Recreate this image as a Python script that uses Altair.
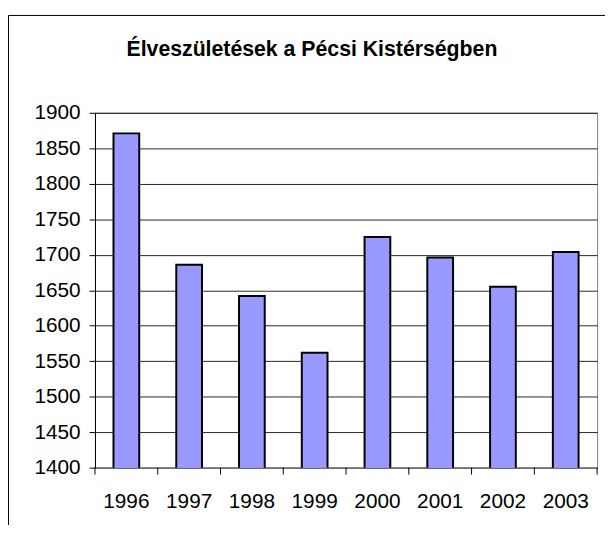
import altair as alt
import pandas as pd

title_text = "Élveszületések a Pécsi Kistérségben"
years = ["1996", "1997", "1998", "1999", "2000", "2001", "2002", "2003"]
births = [1871, 1686, 1642, 1562, 1725, 1696, 1655, 1704]
y_ticks = [1400, 1450, 1500, 1550, 1600, 1650, 1700, 1750, 1800, 1850, 1900]

df = pd.DataFrame({"year": years, "births": births})
tdf = pd.DataFrame({"t": [title_text]})
last_df = pd.DataFrame({"year": [years[-1]]})

W, H = 508, 359
FONT = "Liberation Sans"
FS = 21
P_IN, P_OUT = 0.59, 0.295
STEP = W / len(years)
HALF_GAP = P_OUT * STEP

xscale = alt.Scale(domain=years, paddingInner=P_IN, paddingOuter=P_OUT)
xaxis = alt.Axis(title=None, labelAngle=0, labelFontSize=FS, labelFont=FONT,
                 labelColor="#000000", domainColor="#808080", tickOpacity=0,
                 tickSize=7, labelPadding=16, grid=False)

bars = alt.Chart(df).mark_bar(
    color="#9999FF", stroke="#000000", strokeWidth=2, clip=True
).encode(
    x=alt.X("year:N", sort=years, scale=xscale, axis=xaxis),
    y=alt.Y("births:Q",
            scale=alt.Scale(domain=[1400, 1900], zero=False, nice=False),
            axis=alt.Axis(title=None, values=y_ticks, format="d", labelFontSize=FS,
                          labelFont=FONT, labelColor="#000000", domainColor="#000000",
                          tickColor="#000000", tickSize=6, labelPadding=9,
                          gridColor="#000000", gridWidth=1, gridOpacity=0.85)),
)

xticks = alt.Chart(df).mark_rule(color="#000000", strokeWidth=1, xOffset=-HALF_GAP).encode(
    x=alt.X("year:N", sort=years, scale=xscale, bandPosition=0, axis=xaxis),
    y=alt.value(H), y2=alt.value(H + 7),
)
xtick_end = alt.Chart(last_df).mark_rule(color="#000000", strokeWidth=1, xOffset=HALF_GAP).encode(
    x=alt.X("year:N", sort=years, scale=xscale, bandPosition=1, axis=xaxis),
    y=alt.value(H), y2=alt.value(H + 7),
)

frame = alt.Chart(tdf).mark_rect(
    fill=None, stroke="#000000", strokeWidth=1
).encode(
    x=alt.value(-87.5), x2=alt.value(W + 60), y=alt.value(-98.5), y2=alt.value(H + 120)
)

title = alt.Chart(tdf).mark_text(
    font=FONT, fontSize=21.5, fontWeight="bold", color="#000000",
    align="center", baseline="alphabetic"
).encode(text="t:N", x=alt.value(219.5), y=alt.value(-57))

chart = alt.layer(frame, bars, xticks, xtick_end, title).properties(
    width=W, height=H,
    autosize=alt.AutoSizeParams(type="none"),
    padding={"left": 88, "top": 103, "right": 8, "bottom": 55},
).configure_view(stroke="#808080", strokeWidth=1)

chart.save("out.html", embed_options={"renderer": "svg", "actions": False})
